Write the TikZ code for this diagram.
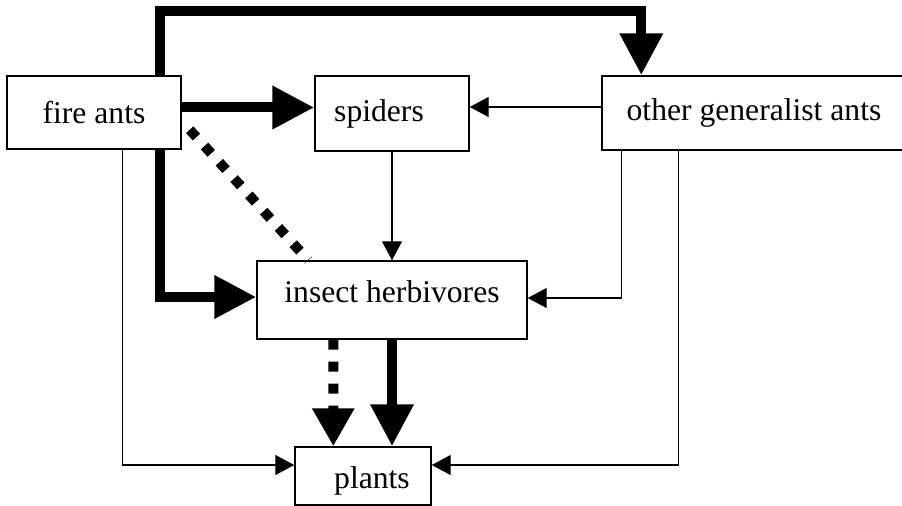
\documentclass[tikz,border=0pt]{standalone}
\usepackage{fontspec}
\setmainfont{Liberation Serif}
\usepackage{tikz}
\usetikzlibrary{arrows.meta,positioning,calc}
\tikzset{
  box/.style={draw=black, line width=0.85pt, align=center, inner sep=2pt, font=\fontsize{18}{21}\selectfont},
  thickarrow/.style={-{Triangle[length=8.4mm,width=8.2mm]}, line width=2mm},
  thinarrow/.style={-{Triangle[length=3.8mm,width=4mm]}, line width=0.75pt},
  dottedline/.style={line width=2mm, dash pattern=on 2mm off 2.4mm},
  dottedarrow/.style={-{Triangle[length=7.6mm,width=8mm]}, line width=2mm, dash pattern=on 2mm off 2.4mm}
}

\begin{document}
\begin{tikzpicture}[x=0.02cm, y=-0.02cm]
\useasboundingbox (0,0) rectangle (902,506);
% ---- boxes ----
\node[box, minimum width=3.48cm, minimum height=1.46cm] (fire) at (94,112.5) {fire ants};
\node[box, minimum width=3.08cm, minimum height=1.5cm] (spiders) at (392,113.5) {spiders\hspace*{0.52cm}};
\node[box, minimum width=6.08cm, minimum height=1.48cm] (other) at (754,113) {other generalist ants};
\node[box, minimum width=5.4cm, minimum height=1.56cm, text height=4.6mm, text depth=3.4mm] (herb) at (392,300) {insect herbivores};
\node[box, minimum width=2.72cm, minimum height=1.16cm, text height=6mm, text depth=1.2mm] (plants) at (363,476) {\hspace*{0.36cm}plants};
% ---- fire ants ----
\draw[thickarrow] ($(fire.north west)+(154,0)$) -- ++(0,-64) -| ($(other.north west)+(40,0)$);
\draw[thickarrow] ($(fire.east)+(0,-5)$) coordinate (fa) -- (fa -| spiders.west);
\draw[thickarrow] ($(fire.south west)+(154,0)$) |- ($(herb.west)+(0,-3)$);
\draw[dottedline] ($(fire.south east)+(8,-20)$) -- ($(herb.north west)+(52,0)$);
\draw[thinarrow] ($(fire.south west)+(116,0)$) |- ($(plants.west)+(0,-11)$);
% ---- other generalist ants ----
\draw[thinarrow] ($(other.west)+(0,-6)$) coordinate (ow) -- (ow -| spiders.east);
\draw[thinarrow] ($(other.south west)+(20,0)$) |- ($(herb.east)+(0,-2)$);
\draw[thinarrow] ($(other.south west)+(77,0)$) |- ($(plants.east)+(0,-11)$);
% ---- spiders and herbivores ----
\draw[thinarrow] (spiders.south) -- (herb.north);
\draw[dottedarrow] ($(herb.south west)+(77,0)$) -- ($(plants.north west)+(39,0)$);
\draw[thickarrow] (herb.south) -- (herb.south |- plants.north);
\end{tikzpicture}
\end{document}
